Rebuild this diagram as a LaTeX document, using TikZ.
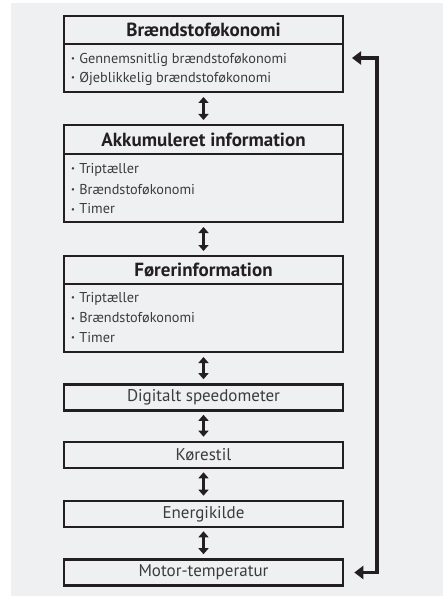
\documentclass[tikz,border=0pt]{standalone}
\usepackage{fontspec}
\setmainfont{PT Sans}
\usetikzlibrary{arrows.meta}
\definecolor{bg}{HTML}{EFF0F2}
\definecolor{ink}{HTML}{231F20}
\definecolor{txt}{HTML}{3C3C3C}
\tikzset{
  frame/.style={draw=ink, line width=2.6pt},
  sep/.style={draw=ink, line width=1.8pt},
  ttl/.style={font=\bfseries\fontsize{19}{21}\selectfont, text=ink, inner sep=0pt},
  itm/.style={font=\fontsize{14.3}{17}\selectfont, text=txt, inner sep=0pt, anchor=west},
  lbl/.style={font=\fontsize{17}{19}\selectfont, text=txt, inner sep=0pt},
  link/.style={draw=ink, line width=3pt, {Triangle[width=10pt,length=6pt]}-{Triangle[width=10pt,length=6pt]}},
  fb/.style={draw=ink, line width=3.5pt, {Triangle[width=13pt,length=9pt]}-{Triangle[width=13pt,length=9pt]}}
}
\newcommand{\bul}{\raisebox{0.25ex}{\scalebox{0.6}{\textbullet}}\hspace{0.3em}}
\begin{document}
\begin{tikzpicture}[x=1pt,y=-1pt]
\useasboundingbox (0,0) rectangle (443,596);
\fill[bg] (11,3) rectangle (443,596);
% box 1
\path[frame] (64,16) rectangle (343,92);
\path[sep] (64,44) -- (343,44);
\node[ttl] (t1) at (203.5,30) {Brændstoføkonomi};
\node[itm] (b11) at (71,60) {\bul Gennemsnitlig brændstoføkonomi};
\node[itm] (b12) at (71,79) {\bul Øjeblikkelig brændstoføkonomi};
\coordinate (b1s) at (203.5,92);
\coordinate (b1e) at (343,58);
% box 2
\path[frame] (64,125) rectangle (343,222);
\path[sep] (64,154) -- (343,154);
\coordinate (b2n) at (203.5,125);
\coordinate (b2s) at (203.5,222);
\node[ttl] (t2) at (203.5,139.5) {Akkumuleret information};
\node[itm] (b21) at (71,170) {\bul Triptæller};
\node[itm] (b22) at (71,189.5) {\bul Brændstoføkonomi};
\node[itm] (b23) at (71,209) {\bul Timer};
% box 3
\path[frame] (64,256) rectangle (343,352);
\path[sep] (64,284) -- (343,284);
\coordinate (b3n) at (203.5,256);
\coordinate (b3s) at (203.5,352);
\node[ttl] (t3) at (203.5,270) {Førerinformation};
\node[itm] (b31) at (71,299) {\bul Triptæller};
\node[itm] (b32) at (71,318) {\bul Brændstoføkonomi};
\node[itm] (b33) at (71,337.5) {\bul Timer};
% single boxes
\node[frame, lbl, minimum width=279pt, minimum height=26pt, inner sep=0pt] (d) at (203.5,397.5) {Digitalt speedometer};
\node[frame, lbl, minimum width=279pt, minimum height=26pt, inner sep=0pt] (k) at (203.5,455) {Kørestil};
\node[frame, lbl, minimum width=279pt, minimum height=26pt, inner sep=0pt] (e) at (203.5,514) {Energikilde};
\node[frame, lbl, minimum width=279pt, minimum height=26pt, inner sep=0pt] (m) at (203.5,572.5) {Motor-temperatur};
% links
\draw[link] ([yshift=-5pt]b1s) -- ([yshift=5pt]b2n);
\draw[link] ([yshift=-5pt]b2s) -- ([yshift=5pt]b3n);
\draw[link] ([yshift=-5pt]b3s) -- ([yshift=4pt]d.north);
\draw[link] ([yshift=-3pt]d.south) -- ([yshift=4pt]k.north);
\draw[link] ([yshift=-3pt]k.south) -- ([yshift=4pt]e.north);
\draw[link] ([yshift=-3pt]e.south) -- ([yshift=4pt]m.north);
% feedback
\draw[fb] ([xshift=9pt]b1e) -- (377,58) -- (377,572.5) -- ([xshift=10pt]m.east);
\end{tikzpicture}
\end{document}
